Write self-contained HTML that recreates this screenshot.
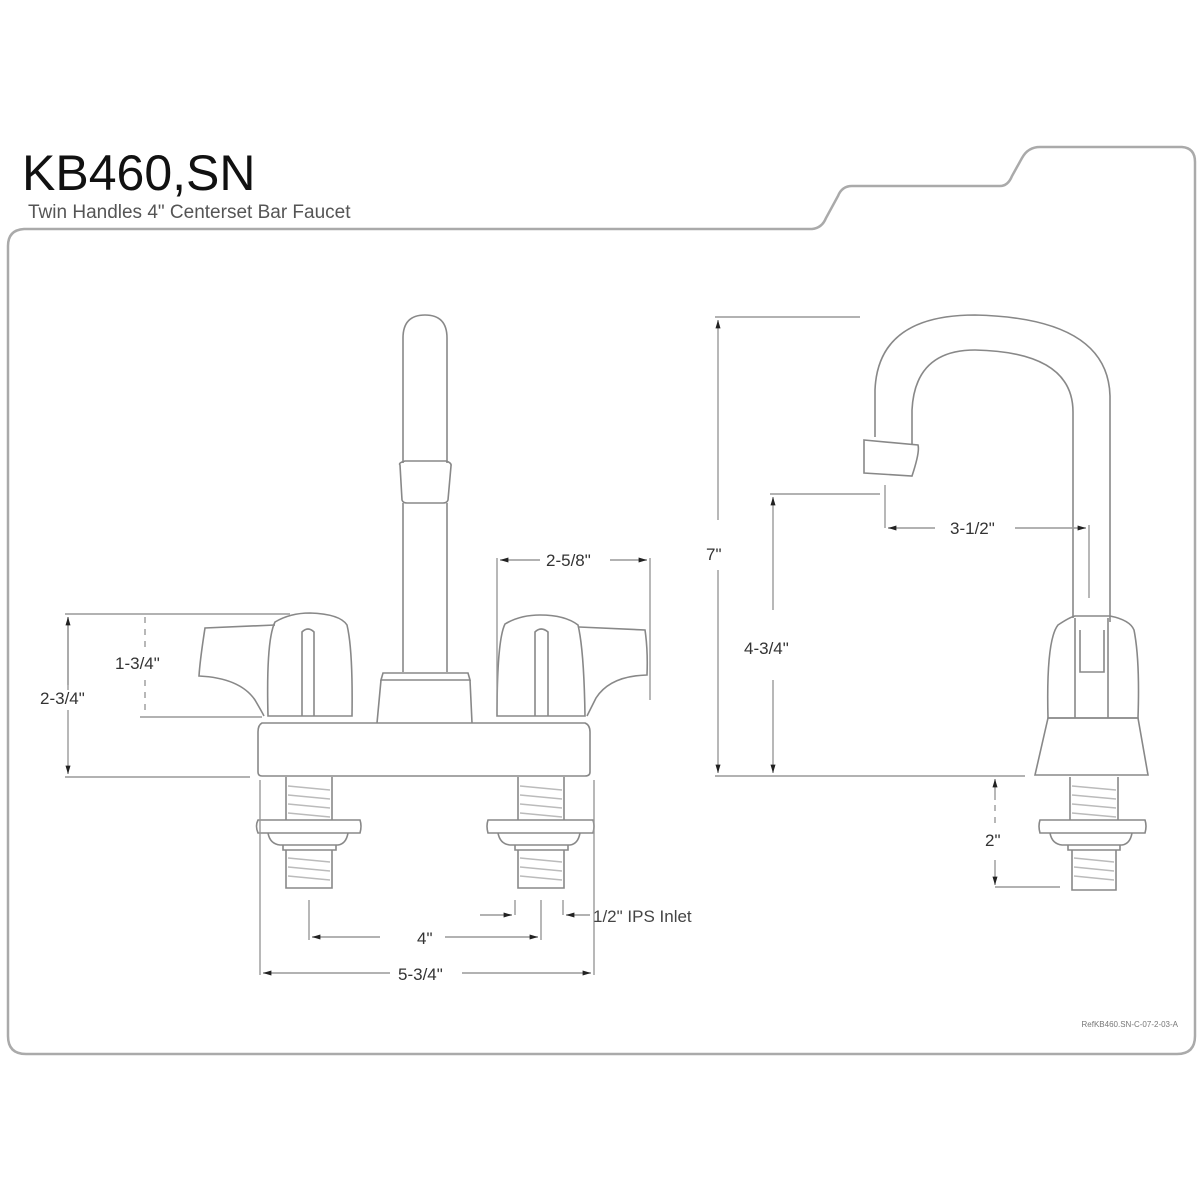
<!DOCTYPE html>
<html><head><meta charset="utf-8"><style>
html,body{margin:0;padding:0;background:#fff;}
svg{display:block;}
text{font-family:"Liberation Sans",sans-serif;fill:#333;}
</style></head><body>
<svg width="1200" height="1200" viewBox="0 0 1200 1200" xmlns="http://www.w3.org/2000/svg">
<defs>
<marker id="a" viewBox="0 0 10 10" refX="10" refY="5" markerWidth="8" markerHeight="6" orient="auto-start-reverse"><path d="M0,2 L10,5 L0,8 z" fill="#222"/></marker>
</defs>
<text x="22" y="190" font-size="50" fill="#111" style="fill:#111">KB460,SN</text>
<text x="28" y="218" font-size="19" style="fill:#555">Twin Handles 4" Centerset Bar Faucet</text>
<path d="M8,246 Q8,230 24,229 L812,229 Q822,228 826,218 L838,196 Q842,186 852,186 L1000,186 Q1008,186 1012,176 L1022,158 Q1028,147 1040,147 L1182,147 Q1195,148 1195,162 L1195,1036 Q1195,1054 1177,1054 L26,1054 Q8,1054 8,1036 Z" fill="none" stroke="#aaa" stroke-width="2.5"/>
<text x="1178" y="1027" font-size="8" text-anchor="end" style="fill:#777">RefKB460.SN-C-07-2-03-A</text>

<g fill="none" stroke="#888" stroke-width="1.6">
<path d="M403,463 L403,338 Q403,315 425,315 Q447,315 447,338 L447,463"/>
<path d="M400,465 Q398,463 405,461 L446,461 Q452,463 451,466 L448,500 Q447,503 443,503 L407,503 Q403,503 402,500 Z"/>
<path d="M403,503 L403,672 M447,503 L447,672"/>
<path d="M383,673 L468,673 L470,680 L381,680 Z"/>
<path d="M381,680 L377,723 M470,680 L472,723"/>
<path d="M262,723 L585,723 Q590,725 590,732 L590,772 Q590,776 585,776 L262,776 Q258,776 258,772 L258,732 Q258,725 262,723 Z"/>
<path d="M268,716 Q266,640 275,622 Q290,613 310,613 Q340,614 347,625 Q353,650 352,716 Z"/>
<path d="M275,625 L205,628 Q200,660 199,676 Q240,678 255,700 Q262,712 264,716"/>
<path d="M302,716 L302,632 Q308,626 314,632 L314,716"/>
<path d="M497,716 Q497,640 505,624 Q520,615 540,615 Q565,615 578,625 Q584,650 585,716 Z"/>
<path d="M579,627 L645,630 Q648,650 647,675 Q610,676 596,698 Q590,710 587,716"/>
<path d="M535,716 L535,632 Q541,626 548,632 L548,716"/>
<path d="M286,777 L286,820 M332,777 L332,820"/>
<path d="M258,820 L360,820 Q362,826 360,833 L258,833 Q255,826 258,820 Z"/>
<path d="M268,833 Q270,844 280,845 L338,845 Q346,844 348,833"/>
<path d="M283,845 L283,850 L336,850 L336,845"/>
<path d="M286,850 L286,888 L332,888 L332,850"/>
<path d="M518,777 L518,820 M564,777 L564,820"/>
<path d="M488,820 L593,820 Q595,826 593,833 L488,833 Q486,826 488,820 Z"/>
<path d="M498,833 Q500,844 510,845 L570,845 Q578,844 580,833"/>
<path d="M515,845 L515,850 L568,850 L568,845"/>
<path d="M518,850 L518,888 L564,888 L564,850"/>
<path d="M875,437 L875,390 Q878,315 975,315 Q1108,318 1110,396 L1110,622"/>
<path d="M912,444 L912,410 Q915,350 975,350 Q1073,352 1073,412 L1073,618"/>
<path d="M864,440 L918,445 Q920,452 912,476 L864,473 Z"/>
<path d="M1048,718 Q1046,640 1058,625 Q1070,617 1075,616 L1110,616 Q1130,620 1134,630 Q1140,660 1138,718 Z"/>
<path d="M1075,618 L1075,718 M1108,618 L1108,718 M1080,630 L1080,672 L1104,672 L1104,630"/>
<path d="M1048,718 L1138,718 L1148,775 L1035,775 Z"/>
<path d="M1070,777 L1070,820 M1118,777 L1118,820"/>
<path d="M1040,820 L1145,820 Q1147,826 1145,833 L1040,833 Q1038,826 1040,820 Z"/>
<path d="M1050,833 Q1052,844 1062,845 L1122,845 Q1130,844 1132,833"/>
<path d="M1068,845 L1068,850 L1120,850 L1120,845"/>
<path d="M1072,850 L1072,890 L1116,890 L1116,850"/>
</g>
<g stroke="#bbb" stroke-width="1.4">
<path d="M288,786 L330,790 M288,795 L330,799 M288,804 L330,808 M288,813 L330,817 M288,858 L330,862 M288,867 L330,871 M288,876 L330,880"/>
<path d="M520,786 L562,790 M520,795 L562,799 M520,804 L562,808 M520,813 L562,817 M520,858 L562,862 M520,867 L562,871 M520,876 L562,880"/>
<path d="M1072,786 L1116,790 M1072,795 L1116,799 M1072,804 L1116,808 M1072,813 L1116,817 M1074,858 L1114,862 M1074,867 L1114,871 M1074,876 L1114,880"/>
</g>
<g fill="none" stroke="#999" stroke-width="1.4">
<path d="M65,614 L290,614 M140,717 L262,717 M65,777 L250,777"/>
<path d="M68,617 L68,685 M68,710 L68,774" marker-end="url(#a)"/>
<path d="M68,690 L68,617" marker-end="url(#a)"/>
<path d="M145,617 L145,650 M145,680 L145,714" stroke-dasharray="6,6"/>
<path d="M497,558 L497,700 M650,558 L650,700"/>
<path d="M540,560 L500,560" marker-end="url(#a)"/>
<path d="M610,560 L647,560" marker-end="url(#a)"/>
<path d="M715,317 L860,317 M770,494 L880,494 M715,776 L1025,776"/>
<path d="M718,520 L718,320" marker-end="url(#a)"/>
<path d="M718,570 L718,773" marker-end="url(#a)"/>
<path d="M773,610 L773,497" marker-end="url(#a)"/>
<path d="M773,680 L773,773" marker-end="url(#a)"/>
<path d="M885,485 L885,528 M1089,525 L1089,598"/>
<path d="M935,528 L888,528" marker-end="url(#a)"/>
<path d="M1015,528 L1086,528" marker-end="url(#a)"/>
<path d="M995,800 L995,779" marker-end="url(#a)"/>
<path d="M995,860 L995,885" marker-end="url(#a)"/>
<path d="M995,805 L995,825" stroke-dasharray="6,6"/>
<path d="M995,887 L1060,887"/>
<path d="M260,780 L260,975 M594,780 L594,975 M309,900 L309,940 M515,900 L515,915 M541,900 L541,940 M563,900 L563,915"/>
<path d="M380,937 L312,937" marker-end="url(#a)"/>
<path d="M445,937 L538,937" marker-end="url(#a)"/>
<path d="M480,915 L512,915" marker-end="url(#a)"/>
<path d="M590,915 L566,915" marker-end="url(#a)"/>
<path d="M390,973 L263,973" marker-end="url(#a)"/>
<path d="M462,973 L591,973" marker-end="url(#a)"/>
</g>
<g font-size="17">
<text x="40" y="704">2-3/4"</text>
<text x="115" y="669">1-3/4"</text>
<text x="546" y="566">2-5/8"</text>
<text x="706" y="560">7"</text>
<text x="744" y="654">4-3/4"</text>
<text x="950" y="534">3-1/2"</text>
<text x="985" y="846">2"</text>
<text x="417" y="944">4"</text>
<text x="398" y="980">5-3/4"</text>
<text x="593" y="922" style="fill:#444">1/2" IPS Inlet</text>
</g>
</svg>
</body></html>
